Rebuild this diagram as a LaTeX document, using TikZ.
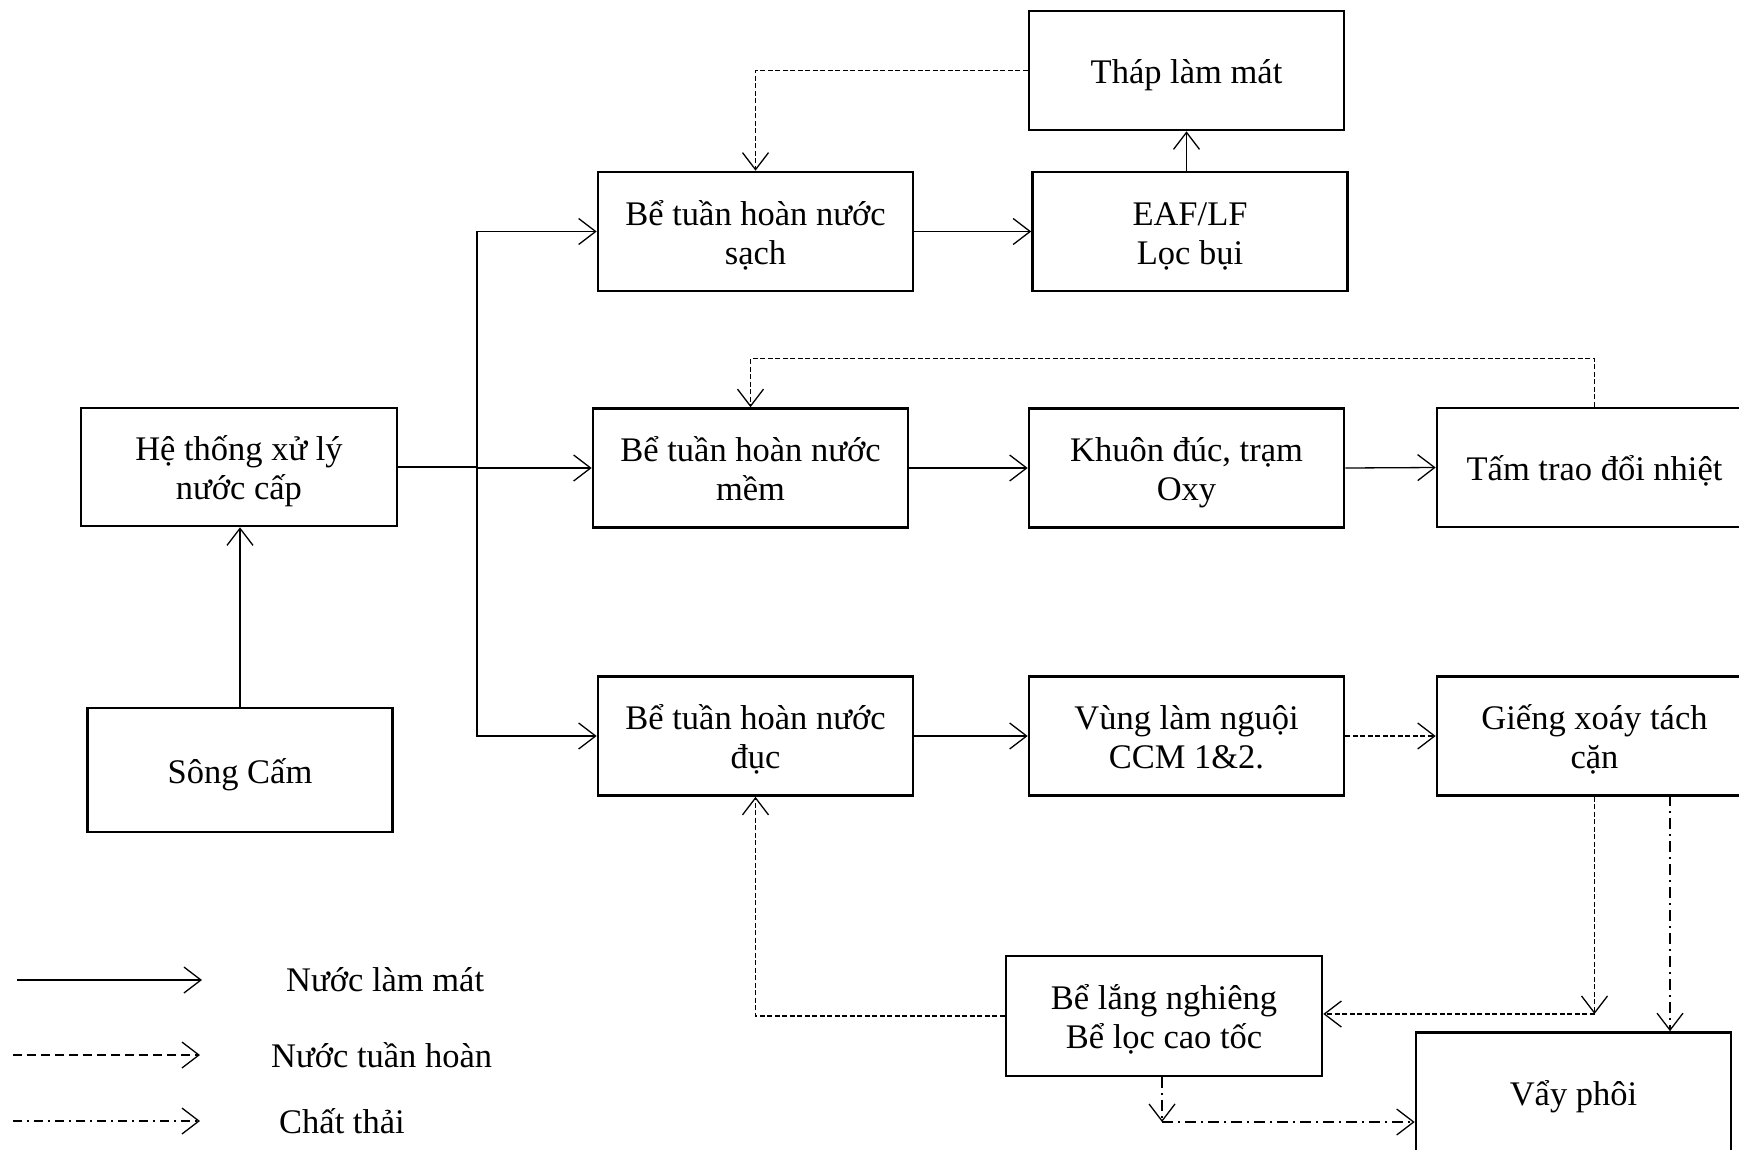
\documentclass[tikz,border=0pt]{standalone}
\usepackage{fontspec}
\setmainfont{Liberation Serif}
\usetikzlibrary{arrows.meta}
% one line of box text, set on a fixed baseline below the line's nominal position
\newcommand\bxl[1]{\raisebox{-13pt}[0pt][0pt]{#1}}
\begin{document}
\begin{tikzpicture}[x=1pt,y=-1pt,
  box/.style={draw, line width=2.6pt, minimum width=315pt, minimum height=119pt,
    inner sep=0pt, align=center, font=\fontsize{34.5}{39}\selectfont},
  tip/.style={-{Straight Barb[length=17pt,width=26pt,line width=1.3pt]}},
  cool/.style={line width=1.3pt, tip},
  recirc/.style={line width=1.3pt, dash pattern=on 5pt off 2.5pt, tip},
  waste/.style={line width=1.3pt, dash pattern=on 11pt off 5pt on 2pt off 5pt, tip},
  legendtext/.style={anchor=west, inner sep=0pt, font=\fontsize{34.5}{39}\selectfont}]

\useasboundingbox (0,0) rectangle (1739,1149);
\clip (0,0) rectangle (1739,1149);

% process units
\node[box] (Thap)  at (1186.5,70.5) {\bxl{Tháp làm mát}};
\node[box] (nSach) at (755.5,231.5) {\bxl{Bể tuần hoàn nước}\\\bxl{sạch}};
\node[box] (EAF)   at (1190,231.5)  {\bxl{EAF/LF}\\\bxl{Lọc bụi}};
\node[box, minimum width=316pt, minimum height=118pt] (HT) at (239,467) {\bxl{Hệ thống xử lý}\\\bxl{nước cấp}};
\node[box] (nMem)  at (750.5,468)   {\bxl{Bể tuần hoàn nước}\\\bxl{mềm}};
\node[box] (Khuon) at (1186.5,468)  {\bxl{Khuôn đúc, trạm}\\\bxl{Oxy}};
\node[box] (Tam)   at (1594.5,467.5){\bxl{Tấm trao đổi nhiệt}};
\node[box, minimum width=305pt, minimum height=124pt] (Song) at (240,770) {\bxl{Sông Cấm}};
\node[box] (nDuc)  at (755.5,736)   {\bxl{Bể tuần hoàn nước}\\\bxl{đục}};
\node[box] (Vung)  at (1186.5,736)  {\bxl{Vùng làm nguội}\\\bxl{CCM 1\&2.}};
\node[box] (Gieng) at (1594.5,736)  {\bxl{Giếng xoáy tách}\\\bxl{cặn}};
\node[box, minimum width=316pt, minimum height=120pt] (Lang) at (1164,1016) {\bxl{Bể lắng nghiêng}\\\bxl{Bể lọc cao tốc}};
\node[box] (Vay) at (1573.5,1092) {\bxl{Vẩy phôi}};

% junction points
\coordinate (J)  at (477,467);
\coordinate (G1) at (1594.5,1014);
\coordinate (G2) at (1670,795);
\coordinate (B1) at (1162,1122);

% cooling water (solid)
\draw[cool] (Song.north) -- (Song.north |- HT.south);
\draw[line width=1.3pt] (HT.east) -- (J);
\draw[cool] (J) |- (nSach.west);
\draw[cool] (J |- nMem.west) -- (nMem.west);
\draw[cool] (J) |- (nDuc.west);
\draw[cool] (nSach.east) -- (EAF.west);
\draw[cool] (EAF.north -| Thap.south) -- (Thap.south);
\draw[cool] (nMem.east) -- (Khuon.west);
\draw[cool] (Khuon.east) -- (Tam.west);
\draw[cool] (nDuc.east) -- (Vung.west);

% recirculated water (dashed)
\draw[recirc] (Thap.west) -| (nSach.north);
\draw[recirc] (Tam.north) -- ++(0,-48) -| (nMem.north);
\draw[recirc] (Vung.east) -- (Gieng.west);
\draw[recirc] (Gieng.south) -- (G1);
\draw[recirc] (G1) -- (G1 -| Lang.east);
\draw[recirc] (Lang.west) -| (nDuc.south);

% waste (dash-dot)
\draw[waste] (G2) -- (G2 |- Vay.north);
\draw[waste] (Lang.south -| B1) -- (B1);
\draw[waste] (B1) -- (B1 -| Vay.west);

% legend
\coordinate (L1a) at (17,980);   \coordinate (L1b) at (202,980);
\coordinate (L2a) at (13,1055);  \coordinate (L2b) at (200,1055);
\coordinate (L3a) at (13,1121);  \coordinate (L3b) at (200,1121);
\draw[cool] (L1a) -- (L1b);
\draw[recirc, dash pattern=on 9pt off 5pt] (L2a) -- (L2b);
\draw[waste, dash pattern=on 9pt off 5pt on 2pt off 5pt] (L3a) -- (L3b);
\node[legendtext] (T1) at (286,980)  {Nước làm mát};
\node[legendtext] (T2) at (271,1055) {Nước tuần hoàn};
\node[legendtext] (T3) at (279,1121) {Chất thải};
\end{tikzpicture}
\end{document}
